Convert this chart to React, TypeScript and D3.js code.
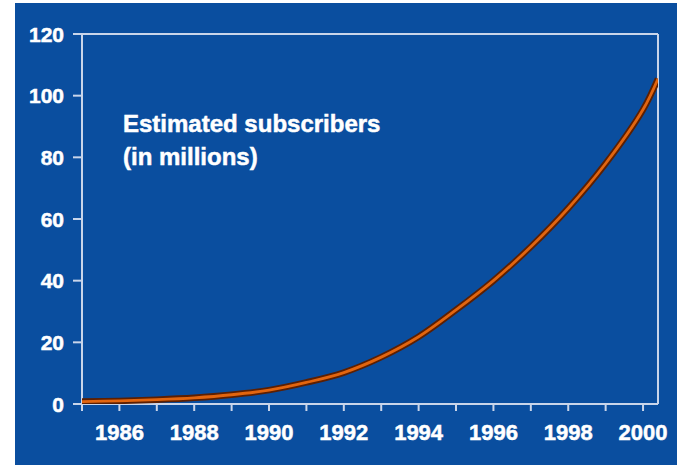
import React from "react";
import * as d3 from "d3";

const years = [1985, 1986, 1987, 1988, 1989, 1990, 1991, 1992, 1993, 1994, 1995, 1996, 1997, 1998, 1999, 2000, 2000.4];
const subscribers = [0.8, 1.0, 1.4, 2.0, 3.0, 4.5, 7.0, 10.2, 15.2, 21.8, 30.5, 40.0, 51.0, 63.5, 78.0, 95.5, 105.5];
const xTickYears = d3.range(1985, 2001);
const xLabelYears = [1986, 1988, 1990, 1992, 1994, 1996, 1998, 2000];
const yTicks = [0, 20, 40, 60, 80, 100, 120];
const titleLines = ["Estimated subscribers", "(in millions)"];

const W = 677;
const H = 468;
const BLUE = "#0a4e9f";
const AXIS = "#c9d5ea";
const FONT = "'Liberation Sans', Arial, Helvetica, sans-serif";

export default function App() {
  const x = d3.scaleLinear().domain([1985, 2000.4]).range([82, 658]);
  const y = d3.scaleLinear().domain([0, 120]).range([404, 34]);
  const pts = years.map((yr, i) => [yr, subscribers[i]] as [number, number]);
  const line = d3
    .line<[number, number]>()
    .x((d) => x(d[0]))
    .y((d) => y(d[1]))
    .curve(d3.curveCatmullRom.alpha(0.5));
  const path = line(pts) || "";
  const x0 = x.range()[0];
  const x1 = x.range()[1];
  const y0 = y.range()[0];
  const y1 = y.range()[1];
  const textStyle = {
    fill: "#fff",
    stroke: "#fff",
    strokeWidth: 0.5,
    fontFamily: FONT,
    fontWeight: "bold" as const,
  };

  return (
    <svg
      width={W}
      height={H}
      style={{ position: "absolute", left: 0, top: 0, display: "block", background: "#fff" }}
    >
      <rect x={15} y={3} width={W - 15} height={462} fill={BLUE} />
      {/* frame */}
      <g stroke={AXIS} strokeWidth={2} fill="none">
        <line x1={x0} y1={y1} x2={x1} y2={y1} />
        <line x1={x1} y1={y1} x2={x1} y2={y0} />
        <line x1={x0} y1={y1 - 1} x2={x0} y2={y0} />
        <line x1={x0} y1={y0} x2={x1} y2={y0} />
      </g>
      {/* y ticks */}
      {yTicks.map((t) => (
        <g key={"y" + t}>
          <line x1={73} x2={x0} y1={y(t)} y2={y(t)} stroke={AXIS} strokeWidth={2} />
          <text x={64} y={y(t)} dy="0.36em" textAnchor="end" fontSize={21} style={textStyle}>
            {t}
          </text>
        </g>
      ))}
      {/* x ticks */}
      {xTickYears.map((t) => (
        <line key={"xt" + t} x1={x(t)} x2={x(t)} y1={y0} y2={y0 + 7} stroke={AXIS} strokeWidth={2} />
      ))}
      {xLabelYears.map((t) => (
        <text key={"xl" + t} x={x(t)} y={440} textAnchor="middle" fontSize={22} style={textStyle}>
          {t}
        </text>
      ))}
      {/* title */}
      {titleLines.map((s, i) => (
        <text key={"t" + i} x={123} y={132 + i * 33} fontSize={24} style={textStyle}>
          {s}
        </text>
      ))}
      {/* data line */}
      <defs>
        <clipPath id="plotclip">
          <rect x={x0} y={y1} width={x1 - x0} height={y0 - y1} />
        </clipPath>
      </defs>
      <g clipPath="url(#plotclip)">
        <path d={path} fill="none" stroke="#5c1f02" strokeWidth={6.5} strokeLinecap="butt" />
        <path d={path} fill="none" stroke="#e2650f" strokeWidth={2.8} strokeLinecap="butt" />
      </g>
    </svg>
  );
}
